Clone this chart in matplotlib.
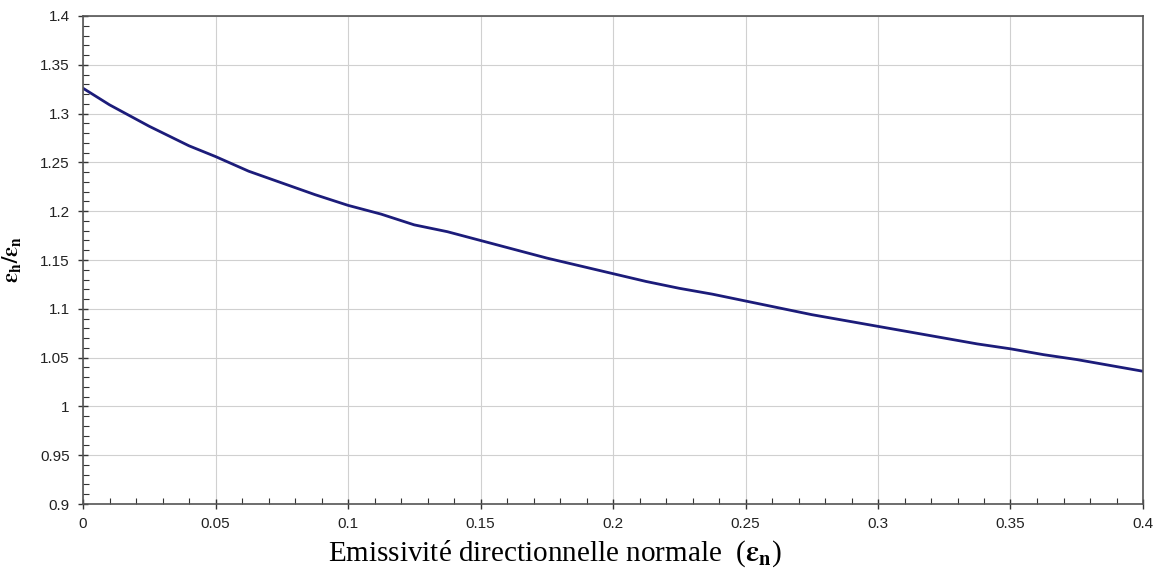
import matplotlib
matplotlib.use("Agg")
import matplotlib.pyplot as plt
from matplotlib.ticker import MultipleLocator

plt.rcParams["mathtext.fontset"] = "stix"

# values
en = [0.0, 0.01, 0.025, 0.04, 0.05, 0.0625, 0.075, 0.0875, 0.1, 0.1125, 0.125,
      0.1375, 0.15, 0.1625, 0.175, 0.1875, 0.2, 0.2125, 0.225, 0.2375, 0.25,
      0.2625, 0.275, 0.2875, 0.3, 0.3125, 0.325, 0.3375, 0.35, 0.3625, 0.375,
      0.3875, 0.4]
ratio = [1.326, 1.309, 1.287, 1.267, 1.256, 1.241, 1.229, 1.217, 1.206, 1.197,
         1.186, 1.179, 1.170, 1.161, 1.152, 1.144, 1.136, 1.128, 1.121, 1.115,
         1.108, 1.101, 1.094, 1.088, 1.082, 1.076, 1.070, 1.064, 1.059, 1.053,
         1.048, 1.042, 1.036]

xticks = [0, 0.05, 0.1, 0.15, 0.2, 0.25, 0.3, 0.35, 0.4]
xticklabels = ["0", "0.05", "0.1", "0.15", "0.2", "0.25", "0.3", "0.35", "0.4"]
yticks = [0.9, 0.95, 1.0, 1.05, 1.1, 1.15, 1.2, 1.25, 1.3, 1.35, 1.4]
yticklabels = ["0.9", "0.95", "1", "1.05", "1.1", "1.15", "1.2", "1.25", "1.3", "1.35", "1.4"]

fig = plt.figure(figsize=(11.59, 5.75), dpi=100)
ax = fig.add_axes([83 / 1159, 1 - 504 / 575, 1060 / 1159, 488 / 575])

ax.plot(en, ratio, color="#1c1c7a", lw=2)

ax.set_xlim(0, 0.4)
ax.set_ylim(0.9, 1.4)
ax.set_xticks(xticks)
ax.set_xticklabels(xticklabels, family="Liberation Sans", fontsize=11, color="#222222")
ax.set_yticks(yticks)
ax.set_yticklabels(yticklabels, family="Liberation Sans", fontsize=11, color="#222222")
ax.xaxis.set_minor_locator(MultipleLocator(0.01))
ax.yaxis.set_minor_locator(MultipleLocator(0.01))
ax.tick_params(which="major", direction="inout", length=7, width=1, color="#333333", pad=6)
ax.tick_params(which="minor", direction="in", length=4, width=0.8, color="#333333")
ax.grid(True, which="major", color="#d0d0d0", lw=0.8)
for s in ax.spines.values():
    s.set_color("#555555")
    s.set_linewidth(1.2)

ax.set_xlabel(r"Emissivité directionnelle normale  ($\mathbf{\varepsilon_n}$)",
              family="Liberation Serif", fontsize=21)
ax.xaxis.set_label_coords(0.445, -0.07)
ax.set_ylabel(r"$\mathbf{\varepsilon_h/\varepsilon_n}$", family="Liberation Serif",
              fontsize=16, labelpad=12)

fig.savefig("out.png", dpi=100)
